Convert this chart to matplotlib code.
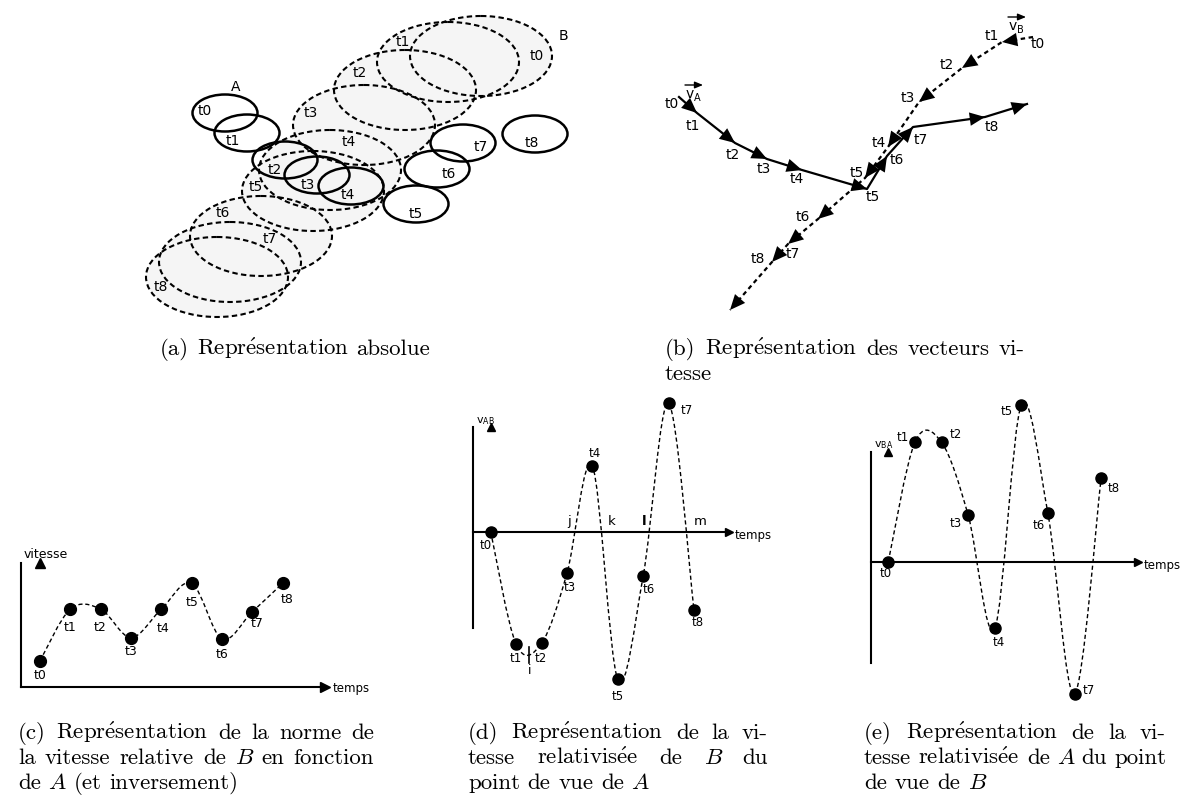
import numpy as np
import matplotlib
matplotlib.use("Agg")
import matplotlib.pyplot as plt
from matplotlib.patches import Ellipse, PathPatch
from matplotlib.path import Path

W, H = 1182, 798
labels = [f"t{i}" for i in range(9)]

# (a) absolute view: ellipse centres (pixels) for A (solid) and B (dashed)
a_A_x = [225, 247, 285, 317, 351, 416, 437, 463, 535]
a_A_y = [113, 133, 160, 175, 186, 204, 169, 143, 134]
a_B_x = [481, 448, 405, 364, 330, 313, 261, 230, 217]
a_B_y = [56, 62, 90, 125, 170, 191, 236, 262, 277]
a_A_lab = [(205, 111), (233, 141), (275, 170), (308, 185), (348, 195),
           (416, 214), (449, 174), (481, 147), (532, 143)]
a_B_lab = [(537, 56), (403, 42), (360, 73), (311, 113), (349, 142),
           (256, 187), (223, 213), (270, 239), (161, 287)]

# (b) velocity vectors: path of A (solid) and B (dashed), last point = free end
b_A_x = [679, 697, 735, 767, 802, 867, 887, 913, 985, 1027]
b_A_y = [97, 113, 143, 159, 170, 189, 156, 127, 117, 104]
b_B_x = [1033, 1002, 962, 919, 888, 865, 818, 788, 772, 730]
b_B_y = [37, 42, 68, 102, 147, 178, 219, 244, 262, 310]
b_A_lab = [(672, 104), (693, 126), (733, 155), (764, 169), (797, 179),
           (873, 197), (897, 160), (921, 140), (992, 127)]
b_B_lab = [(1038, 44), (992, 36), (947, 65), (908, 98), (879, 143),
           (857, 173), (803, 217), (793, 254), (758, 259)]

# (c) norm of relative speed
c_t = np.arange(9)
c_v = [1.0, 3.0, 3.0, 1.9, 3.0, 4.0, 1.85, 2.9, 4.0]
c_off = [(0, 15), (0, 18), (-1, 18), (0, 14), (2, 19), (0, 19), (0, 16), (5, 12), (5, 16)]

# (d) relative speed of B seen from A
d_t = np.arange(9)
d_v = [0, -3.75, -3.72, -1.39, 2.19, -4.92, -1.48, 4.28, -2.61]
d_off = [(-5, 14), (0, 14), (-1, 15), (3, 14), (2, -13), (0, 17), (6, 13), (18, 7), (4, 12)]
d_marks = ['j', 'k', 'l', 'm']
d_marks_t = [3.09, 4.76, 6.03, 8.24]

# (e) relative speed of A seen from B
e_t = np.arange(9)
e_v = [0, 3.98, 3.98, 1.56, -2.22, 5.22, 1.61, -4.41, 2.78]
e_off = [(-3, 12), (-12, -5), (14, -8), (-12, 9), (4, 14), (-15, 6), (-9, 12), (14, -4), (13, 10)]

cap_a = ["(a) Représentation absolue"]
cap_b = ["(b) Représentation des vecteurs vi-", "tesse"]
cap_c = ["(c) Représentation de la norme de", "la vitesse relative de $B$ en fonction",
         "de $A$ (et inversement)"]
cap_d = ["(d) Représentation de la vi-", "tesse relativisée de $B$ du", "point de vue de $A$"]
cap_e = ["(e) Représentation de la vi-", "tesse relativisée de $A$ du point", "de vue de $B$"]

plt.rcParams['font.family'] = ['DejaVu Sans']
plt.rcParams['mathtext.fontset'] = 'dejavusans'

fig = plt.figure(figsize=(W / 100, H / 100), dpi=100)
ax0 = fig.add_axes([0, 0, 1, 1])
ax0.set_xlim(0, W)
ax0.set_ylim(H, 0)
ax0.axis('off')

# ---------- (a)
for x, y in zip(a_B_x, a_B_y):
    ax0.add_patch(Ellipse((x, y), 142, 80, fc='#f5f5f5', ec='none', zorder=1))
for x, y in zip(a_B_x, a_B_y):
    ax0.add_patch(Ellipse((x, y), 142, 80, fill=False, ec='k', lw=1.5,
                          ls=(0, (2.6, 1.6)), zorder=2))
for x, y in zip(a_A_x, a_A_y):
    ax0.add_patch(Ellipse((x, y), 65, 37, fill=False, ec='k', lw=1.8, zorder=3))
for (x, y), s in zip(a_A_lab + a_B_lab, labels + labels):
    ax0.text(x, y, s, ha='center', va='center', fontsize=10, zorder=4)
ax0.text(236, 87, 'A', ha='center', va='center', fontsize=10)
ax0.text(563, 36, 'B', ha='center', va='center', fontsize=10)


# ---------- (b)
def head(p_from, p_to, ms=22):
    ax0.annotate('', xy=p_to, xytext=p_from,
                 arrowprops=dict(arrowstyle='-|>,head_length=0.5,head_width=0.22',
                                 mutation_scale=ms, lw=0, fc='k', ec='k',
                                 shrinkA=0, shrinkB=0), zorder=4)


ax0.plot(b_A_x, b_A_y, color='k', lw=1.6, zorder=3)
ax0.plot(b_B_x, b_B_y, color='k', lw=1.6, ls=(0, (2, 1.6)), zorder=3)
for xs, ys in [(b_A_x, b_A_y), (b_B_x, b_B_y)]:
    for i in range(1, len(xs)):
        head((xs[i - 1], ys[i - 1]), (xs[i], ys[i]))
for (x, y), s in zip(b_A_lab + b_B_lab, labels + labels):
    ax0.text(x, y, s, ha='center', va='center', fontsize=10, zorder=5)


def vec_label(x, y, sub):
    ax0.text(x, y, 'v', ha='center', va='center', fontsize=10)
    ax0.text(x + 7, y + 4, sub, ha='center', va='center', fontsize=7)
    ax0.annotate('', xy=(x + 13, y - 9), xytext=(x - 5, y - 9),
                 arrowprops=dict(arrowstyle='-|>,head_length=0.6,head_width=0.25',
                                 mutation_scale=8, lw=1, color='k',
                                 shrinkA=0, shrinkB=0))


vec_label(690, 94, 'A')
vec_label(1013, 26, 'B')


# ---------- (c), (d), (e)
def smooth_path(x, y):
    P = np.column_stack([x, y]).astype(float)
    ext = np.vstack([P[0], P, P[-1]])
    verts = [P[0]]
    codes = [Path.MOVETO]
    for i in range(len(P) - 1):
        p0, p1, p2, p3 = ext[i], ext[i + 1], ext[i + 2], ext[i + 3]
        verts += [p1 + (p2 - p0) / 6, p2 - (p3 - p1) / 6, p2]
        codes += [Path.CURVE4] * 3
    return Path(verts, codes)


def chart(left, top, right, bottom, x0, dx, y0, dy, ms):
    ax = fig.add_axes([left / W, 1 - bottom / H, (right - left) / W, (bottom - top) / H])
    ax.set_xlim((left - x0) / dx, (right - x0) / dx)
    ax.set_ylim((y0 - bottom) / dy, (y0 - top) / dy)
    ax.patch.set_visible(False)
    ax.spines[['top', 'right']].set_visible(False)
    ax.spines['bottom'].set_position(('data', 0))
    ax.spines[['left', 'bottom']].set_linewidth(1.5)
    ax.set_xticks([])
    ax.set_yticks([])
    ax.plot(1, 0, '>k', ms=ms, transform=ax.get_yaxis_transform(), clip_on=False)
    ax.plot(0, 1, '^k', ms=ms, transform=ax.get_xaxis_transform(), clip_on=False)
    return ax


def draw_series(ax, t, v, offs, ms, fs):
    ax.add_patch(PathPatch(smooth_path(t, v), fill=False, lw=1.0,
                           ls=(0, (3, 2)), clip_on=False, zorder=2))
    ax.plot(t, v, 'o', color='k', ms=ms, clip_on=False, zorder=3)
    for ti, vi, s, (ox, oy) in zip(t, v, labels, offs):
        ax.annotate(s, (ti, vi), xytext=(ox, -oy), textcoords='offset pixels',
                    ha='center', va='center', fontsize=fs, annotation_clip=False)


def axis_names(ax, ylab, yoff, xoff, fs):
    ax.annotate(ylab, (0, 1), xycoords='axes fraction', xytext=yoff,
                textcoords='offset pixels', ha='left', va='center', fontsize=fs,
                annotation_clip=False)
    ax.annotate('temps', (1, 0), xycoords=ax.get_yaxis_transform(), xytext=xoff,
                textcoords='offset pixels', ha='left', va='center', fontsize=8.5,
                annotation_clip=False)


axc = chart(20.7, 563, 325, 686.7, 40, 30.33, 686.7, 25.85, 7)
draw_series(axc, c_t, c_v, c_off, 8.5, 9)
axis_names(axc, 'vitesse', (3, 8), (8, -2), 9)

axd = chart(473.3, 427, 729, 628.3, 490.7, 25.41, 531.7, 30, 6)
draw_series(axd, d_t, d_v, d_off, 8, 8.5)
axis_names(axd, r'$\mathrm{v}_{\mathrm{AB}}$', (3, 6), (6, -4), 8)
for s, t in zip(d_marks, d_marks_t):
    axd.annotate(s, (t, 0), xytext=(0, 10), textcoords='offset pixels',
                 ha='center', va='center', fontsize=9.5,
                 fontweight='bold' if s == 'l' else 'normal')
axd.plot([1.52, 1.52], [-3.83, -4.39], color='k', lw=1.2, clip_on=False)
axd.annotate('i', (1.52, -4.61), ha='center', va='center', fontsize=9, annotation_clip=False)

axe = chart(870.7, 452, 1138, 663.3, 888.3, 26.6, 561.7, 30, 6)
draw_series(axe, e_t, e_v, e_off, 8, 8.5)
axis_names(axe, r'$\mathrm{v}_{\mathrm{BA}}$', (3, 7), (6, -4), 8)

# ---------- captions (justified like the LaTeX source)
CAP = 16.5
renderer = fig.canvas.get_renderer()


def caption(x, y, lines, width):
    em = CAP * 100 / 72
    for k, line in enumerate(lines):
        arts = []
        for w in line.split():
            if w.startswith('$'):
                t = ax0.text(0, y + 25 * k, w.strip('$'), family='cmmi10',
                             fontsize=CAP, va='baseline')
            elif 'é' in w:
                t = ax0.text(0, y + 25 * k, r'$\mathrm{' + w.replace('é', r'\acute{e}') + '}$',
                             fontsize=CAP, va='baseline', math_fontfamily='cm')
            else:
                t = ax0.text(0, y + 25 * k, w, family='cmr10',
                             fontsize=CAP, va='baseline')
            arts.append(t)
        widths = [t.get_window_extent(renderer).width for t in arts]
        gap = 0.333 * em
        if k < len(lines) - 1 and len(arts) > 1:
            gap = max((width - sum(widths)) / (len(arts) - 1), 0.2 * em)
        cx = x
        for t, wd in zip(arts, widths):
            t.set_x(cx)
            cx += wd + gap


caption(160, 355, cap_a, 290)
caption(665, 355, cap_b, 360)
caption(18, 739, cap_c, 356)
caption(468, 739, cap_d, 300)
caption(864, 739, cap_e, 302)

fig.savefig('out.png', dpi=100)
